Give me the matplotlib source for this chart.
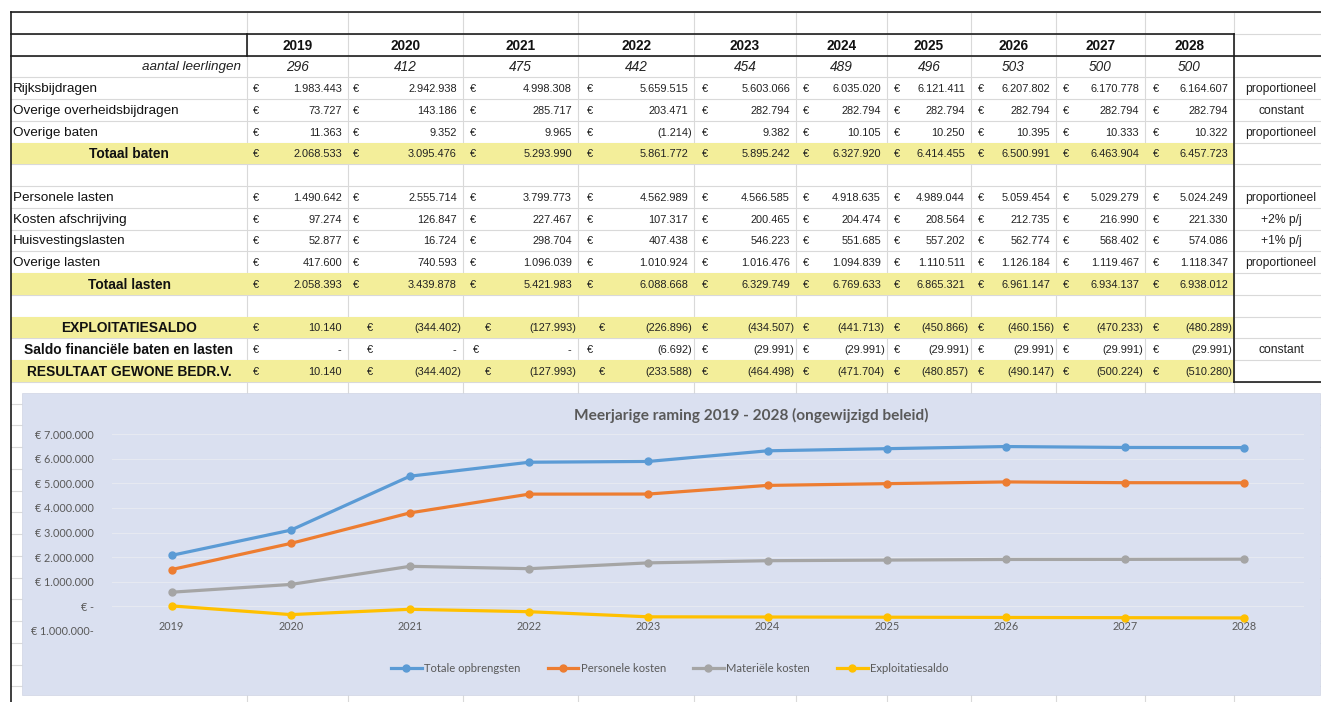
import matplotlib
matplotlib.use("Agg")
import matplotlib.pyplot as plt
import numpy as np
from matplotlib.patches import Rectangle

plt.rcParams['font.family'] = ['Liberation Sans', 'DejaVu Sans']

# ---- data (read from the spreadsheet) ----
years = [2019, 2020, 2021, 2022, 2023, 2024, 2025, 2026, 2027, 2028]
leerlingen = [296, 412, 475, 442, 454, 489, 496, 503, 500, 500]

rijksbijdragen = [1983443, 2942938, 4998308, 5659515, 5603066, 6035020, 6121411, 6207802, 6170778, 6164607]
overige_overheid = [73727, 143186, 285717, 203471, 282794, 282794, 282794, 282794, 282794, 282794]
overige_baten = [11363, 9352, 9965, -1214, 9382, 10105, 10250, 10395, 10333, 10322]
totaal_baten = [2068533, 3095476, 5293990, 5861772, 5895242, 6327920, 6414455, 6500991, 6463904, 6457723]

personele_lasten = [1490642, 2555714, 3799773, 4562989, 4566585, 4918635, 4989044, 5059454, 5029279, 5024249]
afschrijving = [97274, 126847, 227467, 107317, 200465, 204474, 208564, 212735, 216990, 221330]
huisvesting = [52877, 16724, 298704, 407438, 546223, 551685, 557202, 562774, 568402, 574086]
overige_lasten = [417600, 740593, 1096039, 1010924, 1016476, 1094839, 1110511, 1126184, 1119467, 1118347]
totaal_lasten = [2058393, 3439878, 5421983, 6088668, 6329749, 6769633, 6865321, 6961147, 6934137, 6938012]

exploitatiesaldo = [10140, -344402, -127993, -226896, -434507, -441713, -450866, -460156, -470233, -480289]
saldo_financieel = [0, 0, 0, -6692, -29991, -29991, -29991, -29991, -29991, -29991]
resultaat = [10140, -344402, -127993, -233588, -464498, -471704, -480857, -490147, -500224, -510280]

materiele_kosten = [567751, 884164, 1622210, 1525679, 1763164, 1850998, 1876277, 1901693, 1904858, 1913763]

series_names = ['Totale opbrengsten', 'Personele kosten', 'Materiële kosten', 'Exploitatiesaldo']
series_values = [totaal_baten, personele_lasten, materiele_kosten, exploitatiesaldo]
series_colors = ['#5B9BD5', '#ED7D31', '#A5A5A5', '#FFC000']

y_ticks = [-1e6, 0, 1e6, 2e6, 3e6, 4e6, 5e6, 6e6, 7e6]
y_ticklabels = ['€ 1.000.000-', '€ -', '€ 1.000.000', '€ 2.000.000', '€ 3.000.000',
                '€ 4.000.000', '€ 5.000.000', '€ 6.000.000', '€ 7.000.000']
chart_title = 'Meerjarige raming 2019 - 2028 (ongewijzigd beleid)'

# table rows: (row index, label, values, style, note)
rows = [
    (3, 'Rijksbijdragen', rijksbijdragen, 'plain', 'proportioneel'),
    (4, 'Overige overheidsbijdragen', overige_overheid, 'plain', 'constant'),
    (5, 'Overige baten', overige_baten, 'plain', 'proportioneel'),
    (6, 'Totaal baten', totaal_baten, 'total', ''),
    (8, 'Personele lasten', personele_lasten, 'plain', 'proportioneel'),
    (9, 'Kosten afschrijving', afschrijving, 'plain', '+2% p/j'),
    (10, 'Huisvestingslasten', huisvesting, 'plain', '+1% p/j'),
    (11, 'Overige lasten', overige_lasten, 'plain', 'proportioneel'),
    (12, 'Totaal lasten', totaal_lasten, 'total', ''),
    (14, 'EXPLOITATIESALDO', exploitatiesaldo, 'total', ''),
    (15, 'Saldo financiële baten en lasten', saldo_financieel, 'bold', 'constant'),
    (16, 'RESULTAAT GEWONE BEDR.V.', resultaat, 'total', ''),
]

W, H = 1321, 702
col_edges = [11, 247, 348, 463, 578, 694, 796, 887, 971, 1056, 1145, 1234, 1321]
row_h = 21.75
row_top = 12
row_edges = [row_top + i * row_h for i in range(32) if row_top + i * row_h <= H]
grid_c = '#D9D9D9'
yellow = '#F3EE9A'
border_c = '#1E1E1E'

fig = plt.figure(figsize=(W / 100, H / 100), dpi=100)
bg = fig.add_axes([0, 0, 1, 1])
bg.set_xlim(0, W)
bg.set_ylim(H, 0)
bg.axis('off')

# sheet gridlines
for y in row_edges:
    bg.plot([11, W], [y, y], color=grid_c, lw=0.8, zorder=1)
for x in col_edges[1:-1]:
    bg.plot([x, x], [row_top, H], color=grid_c, lw=0.8, zorder=1)


def ry(i):
    return row_top + i * row_h


def fmt(v):
    s = f"{abs(v):,}".replace(',', '.')
    return f"({s})" if v < 0 else s


# yellow bands
for r, label, vals, style, note in rows:
    if style == 'total':
        bg.add_patch(Rectangle((11, ry(r)), 1234 - 11, row_h, facecolor=yellow,
                               edgecolor='none', zorder=2))

# borders
bg.plot([11, W], [ry(0), ry(0)], color=border_c, lw=1.2, zorder=3)
bg.plot([11, 1234], [ry(1), ry(1)], color=border_c, lw=1.2, zorder=3)
bg.plot([11, W], [ry(2), ry(2)], color=border_c, lw=1.2, zorder=3)
bg.plot([11, 11], [ry(0), H], color=border_c, lw=1.2, zorder=3)
bg.plot([247, 247], [ry(1), ry(2)], color=border_c, lw=1.2, zorder=3)
bg.plot([1234, 1234], [ry(1), ry(17)], color=border_c, lw=1.2, zorder=3)
bg.plot([1234, W], [ry(17), ry(17)], color=border_c, lw=1.2, zorder=3)

# header rows
for j, yr in enumerate(years):
    cx = (col_edges[j + 1] + col_edges[j + 2]) / 2
    bg.text(cx, ry(1) + row_h / 2 + 1, str(yr), ha='center', va='center',
            fontsize=9.8, weight='bold', color='#111', zorder=4)
    bg.text(cx, ry(2) + row_h / 2 + 1, str(leerlingen[j]), ha='center', va='center',
            fontsize=9.8, style='italic', color='#222', zorder=4)
bg.text(241, ry(2) + row_h / 2 + 1, 'aantal leerlingen', ha='right', va='center',
        fontsize=9.7, style='italic', color='#222', zorder=4)

# euro sign offsets for the bottom block (cells with a shifted layout)
shift_14 = [6, 19, 22, 21, 8, 7, 7, 7, 7, 8]
shift_15 = [6, 19, 10, 9, 8, 7, 7, 7, 7, 8]
normal = [6, 5, 7, 9, 8, 7, 7, 7, 7, 8]

for r, label, vals, style, note in rows:
    cy = ry(r) + row_h / 2 + 1
    if style == 'plain':
        bg.text(13, cy, label, ha='left', va='center', fontsize=9.7, color='#111', zorder=4)
    else:
        bg.text(129, cy, label, ha='center', va='center', fontsize=9.9,
                weight='bold', color='#111', zorder=4)
    offs = shift_14 if r in (14, 16) else (shift_15 if r == 15 else normal)
    for j, v in enumerate(vals):
        left = col_edges[j + 1]
        right = col_edges[j + 2]
        bg.text(left + offs[j], cy, '€', ha='left', va='center', fontsize=7.9,
                color='#222', zorder=4)
        if v == 0:
            bg.text(right - 7, cy, '-', ha='right', va='center', fontsize=7.9,
                    color='#222', zorder=4)
        elif v < 0:
            bg.text(right - 2, cy, fmt(v), ha='right', va='center', fontsize=7.9,
                    color='#222', zorder=4)
        else:
            bg.text(right - 6, cy, fmt(v), ha='right', va='center', fontsize=7.9,
                    color='#222', zorder=4)
    if note:
        bg.text(1281, cy, note, ha='center', va='center', fontsize=8.7,
                color='#222', zorder=4)

# chart area
bg.add_patch(Rectangle((22, 393), 1320 - 22, 695 - 393, facecolor='#DAE0F0',
                       edgecolor='#D0D5E4', lw=0.5, zorder=5))

chart_font = ['Lato', 'DejaVu Sans']
text_c = '#595959'
ax = fig.add_axes([112 / W, 1 - 630.7 / H, (1304 - 112) / W, 196.4 / H])
ax.set_facecolor('none')
for s in ax.spines.values():
    s.set_visible(False)
ax.spines['bottom'].set_position(('data', 0))

x = np.arange(len(years))
for name, vals, col in zip(series_names, series_values, series_colors):
    ax.plot(x, vals, color=col, lw=2.3, marker='o', ms=5, label=name,
            solid_joinstyle='round', zorder=3)
ax.set_xlim(-0.5, len(years) - 0.5)
ax.set_ylim(-1e6, 7e6)
ax.set_yticks(y_ticks)
ax.set_yticklabels(y_ticklabels)
ax.set_xticks(x)
ax.set_xticklabels([str(y) for y in years])
ax.tick_params(length=0, labelsize=7.8, labelcolor=text_c)
ax.tick_params(axis='y', pad=13)
ax.tick_params(axis='x', pad=11)
for lab in ax.get_xticklabels() + ax.get_yticklabels():
    lab.set_family(chart_font)
ax.grid(axis='y', color='#E6E9F1', lw=0.8)
ax.set_axisbelow(True)

fig.text(751 / W, 1 - 415 / H, chart_title, ha='center', va='center', fontsize=11.1,
         weight='bold', color=text_c, family=chart_font)

fig.legend(loc='center', bbox_to_anchor=(670 / W, 1 - 668 / H), ncol=4, frameon=False,
           prop={'family': chart_font, 'size': 8.1}, labelcolor=text_c,
           handlelength=2.7, handletextpad=0.25, columnspacing=2.4)

fig.savefig('out.png', dpi=100)
